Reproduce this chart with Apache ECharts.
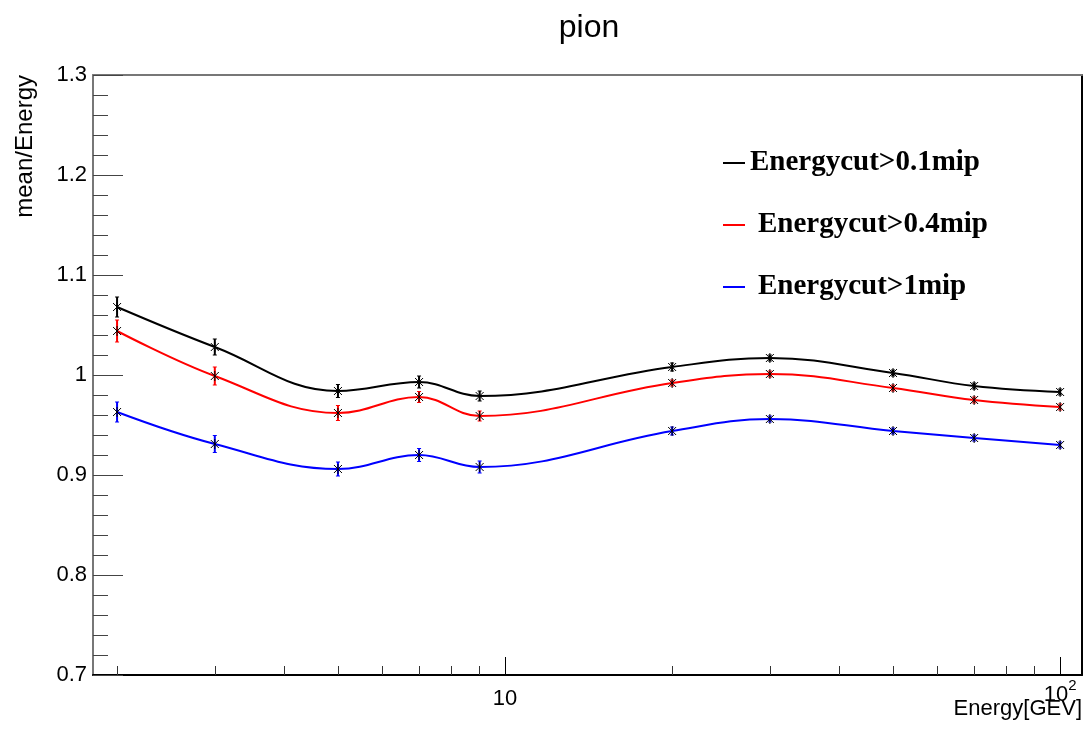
<!DOCTYPE html>
<html>
<head>
<meta charset="utf-8">
<script src="https://cdn.jsdelivr.net/npm/echarts@6/dist/echarts.min.js"></script>
<style>
  html, body { margin: 0; padding: 0; background: #fff; }
  #chart { width: 1086px; height: 731px; }
</style>
</head>
<body>
<div id="chart"></div>
<script>
// beam energies (GeV)
const energies = [2, 3, 5, 7, 9, 20, 30, 50, 70, 100];
// mean/Energy for each energy cut
const cut01 = [1.068, 1.028, 0.984, 0.993, 0.979, 1.008, 1.017, 1.002, 0.989, 0.983];
const cut04 = [1.044, 0.999, 0.962, 0.978, 0.959, 0.992, 1.001, 0.987, 0.975, 0.968];
const cut1 = [0.963, 0.931, 0.906, 0.920, 0.908, 0.944, 0.956, 0.944, 0.937, 0.930];
// errors
const err01 = [0.010, 0.008, 0.0065, 0.006, 0.005, 0.004, 0.003, 0.003, 0.003, 0.003];
const err04 = [0.011, 0.009, 0.0075, 0.0055, 0.005, 0.003, 0.003, 0.003, 0.003, 0.003];
const err1 = [0.010, 0.0085, 0.007, 0.0065, 0.006, 0.004, 0.003, 0.003, 0.003, 0.003];
const seriesNames = ['Energycut>0.1mip', 'Energycut>0.4mip', 'Energycut>1mip'];

// axis
const eMin = 1.81;
const eMax = 109.5;
const minorTicks = [2, 3, 4, 5, 6, 7, 8, 9, 20, 30, 40, 50, 60, 70, 80, 90];
const majorTicks = [10, 100];

const sans = '"Liberation Sans", Arial, Helvetica, sans-serif';
const serif = '"Liberation Serif", "Times New Roman", serif';
const colors = ['#000000', '#ff0000', '#0000ff'];

const lg = Math.log10;
function pts (vals, errs) {
  return energies.map((e, i) => [lg(e), vals[i], errs[i]]);
}

function renderErr (color) {
  return function (params, api) {
    const x = api.value(0);
    const y = api.value(1);
    const e = api.value(2);
    const p = api.coord([x, y]);
    const t = api.coord([x, y + e]);
    const b = api.coord([x, y - e]);
    const s = 4;
    const ink = { stroke: '#000', lineWidth: 1 };
    return {
      type: 'group',
      children: [
        { type: 'line', shape: { x1: p[0], y1: t[1], x2: p[0], y2: b[1] }, style: { stroke: color, lineWidth: 2 } },
        { type: 'line', shape: { x1: p[0] - 2, y1: t[1], x2: p[0] + 2, y2: t[1] }, style: { stroke: color, lineWidth: 1 } },
        { type: 'line', shape: { x1: p[0] - 2, y1: b[1], x2: p[0] + 2, y2: b[1] }, style: { stroke: color, lineWidth: 1 } },
        // asterisk marker
        { type: 'line', shape: { x1: p[0] - s, y1: p[1] - s, x2: p[0] + s, y2: p[1] + s }, style: ink },
        { type: 'line', shape: { x1: p[0] - s, y1: p[1] + s, x2: p[0] + s, y2: p[1] - s }, style: ink },
        { type: 'line', shape: { x1: p[0], y1: p[1] - s - 1, x2: p[0], y2: p[1] + s + 1 }, style: ink },
      ],
    };
  };
}

const data = [pts(cut01, err01), pts(cut04, err04), pts(cut1, err1)];

const series = [];
data.forEach((d, i) => {
  series.push({
    name: seriesNames[i],
    type: 'line',
    smooth: 0.4,
    showSymbol: false,
    data: d.map((p) => [p[0], p[1]]),
    lineStyle: { color: colors[i], width: 2 },
    itemStyle: { color: colors[i] },
    z: 2,
  });
});
data.forEach((d, i) => {
  series.push({
    name: 'err' + i,
    type: 'custom',
    data: d,
    encode: { x: 0, y: 1 },
    renderItem: renderErr(colors[i]),
    z: 3,
  });
});

const chart = echarts.init(document.getElementById('chart'));
chart.setOption({
  animation: false,
  backgroundColor: '#fff',
  title: {
    text: 'pion',
    left: 584,
    top: 7,
    textAlign: 'center',
    textStyle: { fontFamily: sans, fontSize: 32, fontWeight: 'normal', color: '#000' },
  },
  legend: {
    orient: 'vertical',
    left: 718,
    top: 143,
    itemGap: 32,
    itemWidth: 22,
    itemHeight: 2,
    icon: 'rect',
    textStyle: { fontFamily: serif, fontSize: 29, fontWeight: 'bold', color: '#000', lineHeight: 30 },
    data: [
      { name: seriesNames[0] },
      { name: seriesNames[1], textStyle: { padding: [0, 0, 0, 8] } },
      { name: seriesNames[2], textStyle: { padding: [0, 0, 0, 8] } },
    ],
  },
  grid: { left: 93, right: 4, top: 75, bottom: 56, outerBoundsMode: 'none' },
  xAxis: [
    {
      type: 'value',
      min: lg(eMin),
      max: lg(eMax),
      position: 'bottom',
      axisLine: { show: true, lineStyle: { color: '#000', width: 2 } },
      axisTick: { inside: true, length: 9, customValues: minorTicks.map(lg), lineStyle: { color: '#333' } },
      axisLabel: { show: false },
      splitLine: { show: false },
    },
    {
      type: 'value',
      min: lg(eMin),
      max: lg(eMax),
      position: 'bottom',
      axisLine: { show: false },
      axisTick: { inside: true, length: 18, customValues: majorTicks.map(lg), lineStyle: { color: '#000' } },
      axisLabel: {
        customValues: majorTicks.map(lg),
        margin: 3,
        fontFamily: sans,
        fontSize: 22,
        color: '#000',
        formatter: (v) => {
          const n = Math.round(Math.pow(10, v));
          return n === 100 ? '{b|10}{sup|2}' : '{p|' + n + '}';
        },
        rich: {
          p: { fontFamily: sans, fontSize: 22, color: '#000', padding: [10, 0, 0, 0] },
          b: { fontFamily: sans, fontSize: 22, color: '#000', padding: [6, 0, 0, 0] },
          sup: { fontFamily: sans, fontSize: 15, color: '#000', verticalAlign: 'top' },
        },
      },
      splitLine: { show: false },
    },
    {
      type: 'value',
      min: lg(eMin),
      max: lg(eMax),
      position: 'top',
      axisLine: { show: true, lineStyle: { color: '#777', width: 2 } },
      axisTick: { show: false },
      axisLabel: { show: false },
      splitLine: { show: false },
    },
  ],
  yAxis: [
    {
      type: 'value',
      min: 0.7,
      max: 1.3,
      interval: 0.1,
      position: 'left',
      axisLine: { show: true, lineStyle: { color: '#777', width: 2 } },
      axisTick: { inside: true, length: 30, lineStyle: { color: '#444' } },
      minorTick: { show: true, splitNumber: 5, length: 15, lineStyle: { color: '#444' } },
      axisLabel: {
        margin: 6,
        fontFamily: sans,
        fontSize: 22,
        color: '#000',
        formatter: (v) => String(+v.toFixed(1)),
      },
      splitLine: { show: false },
      minorSplitLine: { show: false },
    },
    {
      type: 'value',
      min: 0.7,
      max: 1.3,
      position: 'right',
      axisLine: { show: true, lineStyle: { color: '#000', width: 2 } },
      axisTick: { show: false },
      axisLabel: { show: false },
      splitLine: { show: false },
    },
  ],
  graphic: [
    {
      type: 'text',
      x: 13,
      y: 75,
      rotation: Math.PI / 2,
      style: { text: 'mean/Energy', font: '24px ' + sans, fill: '#000', align: 'right', verticalAlign: 'top' },
    },
    {
      type: 'text',
      x: 1082,
      y: 720,
      style: { text: 'Energy[GEV]', font: '22px ' + sans, fill: '#000', align: 'right', verticalAlign: 'bottom' },
    },
  ],
  series: series,
});
</script>
</body>
</html>
